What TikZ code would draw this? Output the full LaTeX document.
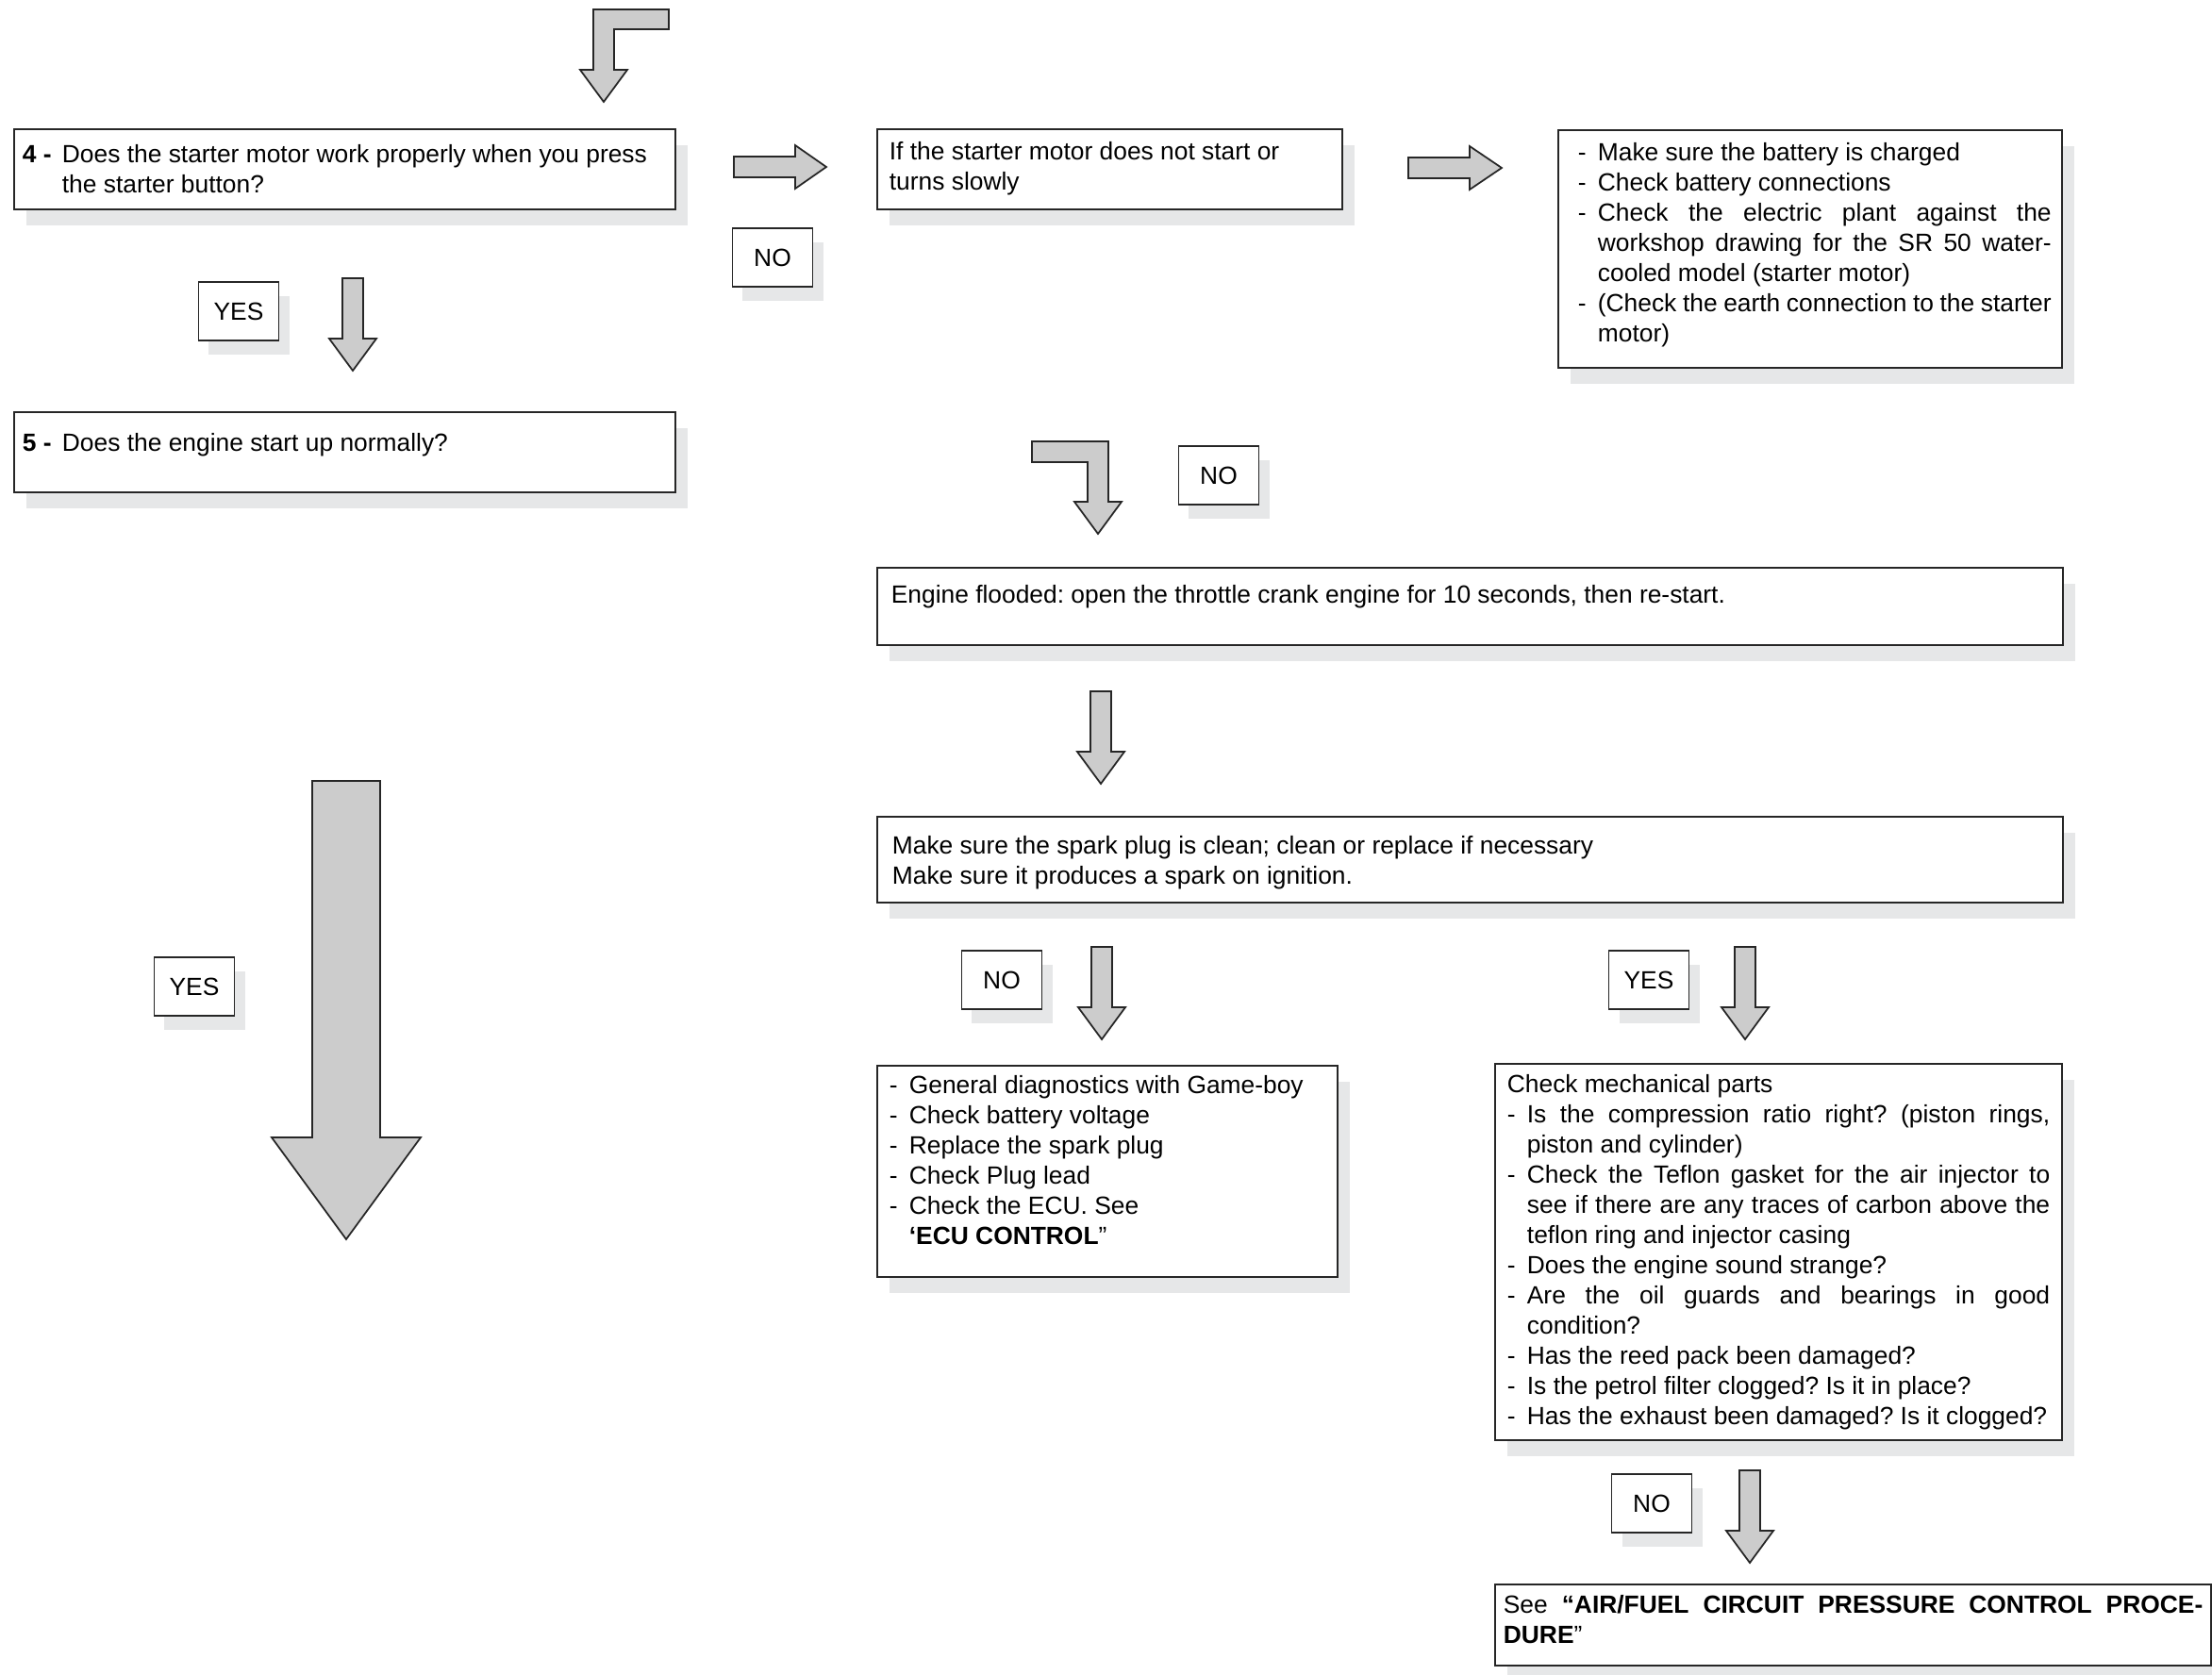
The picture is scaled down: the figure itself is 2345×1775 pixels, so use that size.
\documentclass[tikz,border=0pt]{standalone}
\usepackage{fontspec}
\setmainfont{Liberation Sans}
\usetikzlibrary{shadows}
\definecolor{shade}{HTML}{E6E7E8}
\definecolor{arrowfill}{HTML}{CCCCCC}
\newcommand{\dashitem}[1]{\hangindent=0.21cm\hangafter=1\makebox[0.21cm][l]{-}#1\par}

\begin{document}
\begin{tikzpicture}[x=0.01cm,y=-0.01cm,
	every node/.style={font=\fontsize{7.5}{9.1}\selectfont\frenchspacing},
	panel/.style={draw=black!85,fill=white,line width=0.5pt,anchor=north west,inner ysep=0pt,align=justify,
		drop shadow={shadow xshift=0.13cm,shadow yshift=-0.17cm,fill=shade,opacity=1}},
	tag/.style={draw=black!85,fill=white,line width=0.5pt,minimum width=0.85cm,minimum height=0.62cm,inner sep=0pt,
		drop shadow={shadow xshift=0.11cm,shadow yshift=-0.15cm,fill=shade,opacity=1}},
	blockarrow/.style={draw=black!85,fill=arrowfill,line width=0.5pt}]
				\useasboundingbox (0,0) rectangle (2345,1775);

				\node[panel,text width=6.83cm,inner xsep=0.09cm,text height=0.36cm,text depth=0.49cm] (q4) at (14,136)
					{\hangindent=0.42cm\hangafter=1\makebox[0.42cm][l]{\textbf{4 -}}Does the starter motor work properly when you press\newline the starter button?\par};
				\node[panel,text width=6.83cm,inner xsep=0.09cm,text height=0.42cm,text depth=0.43cm] (q5) at (14,436)
					{\makebox[0.42cm][l]{\textbf{5 -}}Does the engine start up normally?};
				\node[panel,text width=4.67cm,inner xsep=0.13cm,text height=0.33cm,text depth=0.52cm] (slow) at (929,136)
					{If the starter motor does not start or\newline turns slowly};
				\node[panel,text width=5.11cm,inner xsep=0.115cm,text height=0.33cm,text depth=2.19cm] (battery) at (1651,137)
					{\leftskip=0.095cm
					\dashitem{Make sure the battery is charged}
					\dashitem{Check battery connections}
					\dashitem{Check the electric plant against the\linebreak workshop drawing for the SR 50 water-\linebreak cooled model (starter motor)}
					\dashitem{(Check the earth connection to the starter\linebreak motor)}};
				\node[panel,text width=12.26cm,inner xsep=0.15cm,text height=0.38cm,text depth=0.44cm] (flooded) at (929,601)
					{Engine flooded: open the throttle crank engine for 10 seconds, then re-start.};
				\node[panel,text width=12.24cm,inner xsep=0.16cm,text height=0.40cm,text depth=0.51cm] (plug) at (929,865)
					{Make sure the spark plug is clean; clean or replace if necessary\newline Make sure it produces a spark on ignition.};
				\node[panel,text width=4.62cm,inner xsep=0.13cm,text height=0.30cm,text depth=1.94cm] (noplug) at (929,1129)
					{\dashitem{General diagnostics with Game-boy}
					\dashitem{Check battery voltage}
					\dashitem{Replace the spark plug}
					\dashitem{Check Plug lead}
					\dashitem{Check the ECU. See\newline \textbf{‘ECU CONTROL}”}};
				\node[panel,text width=5.75cm,inner xsep=0.13cm,text height=0.31cm,text depth=3.68cm] (mech) at (1584,1127)
					{Check mechanical parts\par
					\dashitem{Is the compression ratio right? (piston rings,\linebreak piston and cylinder)}
					\dashitem{Check the Teflon gasket for the air injector to\linebreak see if there are any traces of carbon above the\linebreak teflon ring and injector casing}
					\dashitem{Does the engine sound strange?}
					\dashitem{Are the oil guards and bearings in good\linebreak condition?}
					\dashitem{Has the reed pack been damaged?}
					\dashitem{Is the petrol filter clogged? Is it in place?}
					\dashitem{Has the exhaust been damaged? Is it clogged?}};
				\node[panel,text width=7.41cm,inner xsep=0.09cm,text height=0.31cm,text depth=0.55cm] (airfuel) at (1584,1679)
					{See \textbf{“AIR/FUEL CIRCUIT PRESSURE CONTROL PROCE-\linebreak DURE}”};

				\node[tag] (no1) at (819,273) {NO};
				\node[tag] (yes1) at (253,330) {YES};
				\node[tag] (no2) at (1292,504) {NO};
				\node[tag] (yes3) at (206,1046) {YES};
				\node[tag] (no3) at (1062,1039) {NO};
				\node[tag] (yes2) at (1748,1039) {YES};
				\node[tag] (no4) at (1751,1594) {NO};

				\draw[blockarrow] (629,10) -- ++(80,0) -- ++(0,21) -- ++(-58,0) -- ++(0,43) -- ++(14,0) -- ++(-25,34) -- ++(-25,-34) -- ++(14,0) -- cycle;
				\draw[blockarrow] (778,166) -- ++(65,0) -- ++(0,-12) -- ++(33,23) -- ++(-33,23) -- ++(0,-12) -- ++(-65,0) -- cycle;
				\draw[blockarrow] (1493,167) -- ++(65,0) -- ++(0,-12) -- ++(34,23) -- ++(-34,23) -- ++(0,-12) -- ++(-65,0) -- cycle;
				\draw[blockarrow] (363,295) -- ++(22,0) -- ++(0,64) -- ++(14,0) -- ++(-25,34) -- ++(-25,-34) -- ++(14,0) -- cycle;
				\draw[blockarrow] (1094,468) -- ++(81,0) -- ++(0,64) -- ++(14,0) -- ++(-25,34) -- ++(-25,-34) -- ++(14,0) -- ++(0,-42) -- ++(-59,0) -- cycle;
				\draw[blockarrow] (1156,733) -- ++(22,0) -- ++(0,64) -- ++(14,0) -- ++(-25,34) -- ++(-25,-34) -- ++(14,0) -- cycle;
				\draw[blockarrow] (1157,1004) -- ++(22,0) -- ++(0,64) -- ++(14,0) -- ++(-25,34) -- ++(-25,-34) -- ++(14,0) -- cycle;
				\draw[blockarrow] (1839,1004) -- ++(22,0) -- ++(0,64) -- ++(14,0) -- ++(-25,34) -- ++(-25,-34) -- ++(14,0) -- cycle;
				\draw[blockarrow] (1844,1559) -- ++(22,0) -- ++(0,64) -- ++(14,0) -- ++(-25,34) -- ++(-25,-34) -- ++(14,0) -- cycle;
				\draw[blockarrow] (331,828) -- ++(72,0) -- ++(0,378) -- ++(43,0) -- ++(-79,108) -- ++(-79,-108) -- ++(43,0) -- cycle;
			\end{tikzpicture}
\end{document}
